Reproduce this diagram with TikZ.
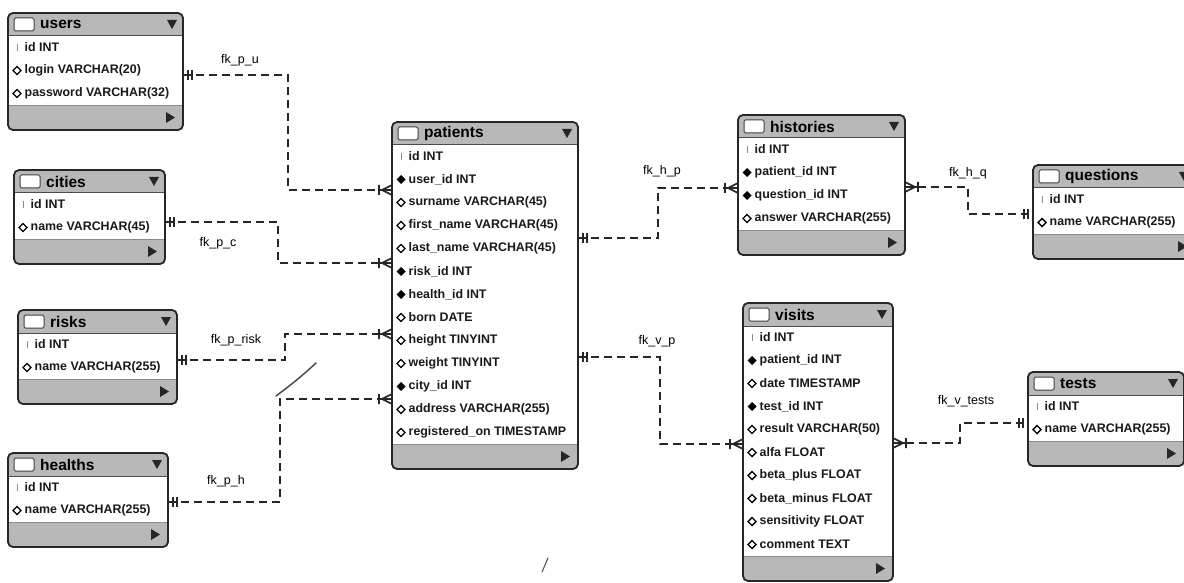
\documentclass[tikz,border=0pt]{standalone}
\usepackage{fontspec}
\setmainfont{Liberation Sans}
\tikzset{
  tabfill/.style={rectangle, rounded corners=5pt, fill=black!28, inner sep=0pt, outer sep=0pt},
  tabline/.style={draw=black!85, line width=1.8pt, rounded corners=5pt},
  ttl/.style={font=\fontsize{15.5}{15.5}\selectfont\bfseries, anchor=west, inner sep=0pt},
  rowtxt/.style={font=\fontsize{12.4}{12.4}\selectfont\bfseries, anchor=west, inner sep=0pt, text=black!90},
  lbl/.style={font=\fontsize{12.5}{12.5}\selectfont, inner sep=1pt},
  fk/.style={draw=black!85, line width=1.8pt, dash pattern=on 8pt off 5pt},
  endmark/.style={draw=black!85, line width=1.7pt, solid},
  one/.pic={\draw[endmark] (5,-5) -- (5,5) (9,-5) -- (9,5);},
  many/.pic={\draw[endmark] (0,-5) -- (10,0) -- (0,5) (0,0) -- (12,0) (13,-5) -- (13,5);},
  scribble/.style={draw=black!70, line width=1.5pt, line cap=round},
}
\newcommand{\dbtab}[7]{%
  \pgfmathsetmacro{\tabH}{48+23*#6}%
  \node[tabfill, minimum width=#5pt, minimum height=\tabH pt, anchor=north west] (#1) at (#3,#4) {};
  \fill[white] ([yshift=-23pt]#1.north west) rectangle ([yshift=25pt]#1.south east);
  \draw[black!70, line width=1pt] ([yshift=-23pt]#1.north west) -- ([yshift=-23pt]#1.north east);
  \draw[black!45, line width=0.8pt] ([yshift=25pt]#1.south west) -- ([yshift=25pt]#1.south east);
  \draw[tabline] (#1.north west) rectangle (#1.south east);
  \draw[fill=white, draw=black!75, line width=1pt, rounded corners=1.5pt] ([xshift=6pt,yshift=-5pt]#1.north west) rectangle ([xshift=26pt,yshift=-18pt]#1.north west);
  \node[ttl] (#1-title) at ([xshift=32pt,yshift=-11.5pt]#1.north west) {#2};
  \fill[black!85] ([xshift=-16pt,yshift=-7pt]#1.north east) -- ([xshift=-6pt,yshift=-7pt]#1.north east) -- ([xshift=-11pt,yshift=-16pt]#1.north east) -- cycle;
  \fill[black!85] ([xshift=-17pt,yshift=7pt]#1.south east) -- ([xshift=-17pt,yshift=18pt]#1.south east) -- ([xshift=-8pt,yshift=12.5pt]#1.south east) -- cycle;
  \foreach \ic/\tx [count=\k from 0] in {#7}{%
    \pgfmathsetmacro{\ry}{34.5+23*\k}%
    \coordinate (ico) at ([xshift=9pt,yshift=-\ry pt]#1.north west);
    \ifnum\ic=0 \draw[black!45, line width=0.8pt] ([yshift=3.5pt]ico) -- ([yshift=-3.5pt]ico);\fi
    \ifnum\ic=1 \draw[black, line width=1.4pt] ([xshift=-4pt]ico) -- ([yshift=4pt]ico) -- ([xshift=4pt]ico) -- ([yshift=-4pt]ico) -- cycle;\fi
    \ifnum\ic=2 \fill[black] ([xshift=-4.5pt]ico) -- ([yshift=4.5pt]ico) -- ([xshift=4.5pt]ico) -- ([yshift=-4.5pt]ico) -- cycle;\fi
    \node[rowtxt] (#1-r\k) at ([xshift=7.5pt]ico) {\tx};
  }%
}
\begin{document}
\begin{tikzpicture}[x=1pt,y=-1pt]
\useasboundingbox (0,0) rectangle (1184,583);
\fill[white] (0,0) rectangle (1184,583);
\clip (0,0) rectangle (1184,583);

\dbtab{users}{users}{8}{13}{175}{3}{0/id INT, 1/login VARCHAR(20), 1/password VARCHAR(32)}
\dbtab{cities}{cities}{14}{170}{151}{2}{0/id INT, 1/name VARCHAR(45)}
\dbtab{risks}{risks}{18}{310}{159}{2}{0/id INT, 1/name VARCHAR(255)}
\dbtab{healths}{healths}{8}{453}{160}{2}{0/id INT, 1/name VARCHAR(255)}
\dbtab{patients}{patients}{392}{122}{186}{13}{0/id INT, 2/user\_id INT, 1/surname VARCHAR(45), 1/first\_name VARCHAR(45), 1/last\_name VARCHAR(45), 2/risk\_id INT, 2/health\_id INT, 1/born DATE, 1/height TINYINT, 1/weight TINYINT, 2/city\_id INT, 1/address VARCHAR(255), 1/registered\_on TIMESTAMP}
\dbtab{histories}{histories}{738}{115}{167}{4}{0/id INT, 2/patient\_id INT, 2/question\_id INT, 1/answer VARCHAR(255)}
\dbtab{questions}{questions}{1033}{165}{162}{2}{0/id INT, 1/name VARCHAR(255)}
\dbtab{visits}{visits}{743}{303}{150}{10}{0/id INT, 2/patient\_id INT, 1/date TIMESTAMP, 2/test\_id INT, 1/result VARCHAR(50), 1/alfa FLOAT, 1/beta\_plus FLOAT, 1/beta\_minus FLOAT, 1/sensitivity FLOAT, 1/comment TEXT}
\dbtab{tests}{tests}{1028}{372}{156}{2}{0/id INT, 1/name VARCHAR(255)}

% connectors
\draw[fk] (users.east |- 0,75) -- (288,75) |- (patients.west |- 0,190);
\pic at (users.east |- 0,75) {one};
\pic[rotate=180] at (patients.west |- 0,190) {many};
\node[lbl] (l-pu) at (240,60) {fk\_p\_u};

\draw[fk] (cities.east |- 0,222) -- (278,222) |- (patients.west |- 0,263);
\pic at (cities.east |- 0,222) {one};
\pic[rotate=180] at (patients.west |- 0,263) {many};
\node[lbl] (l-pc) at (218,243) {fk\_p\_c};

\draw[fk] (risks.east |- 0,360) -- (285,360) |- (patients.west |- 0,334);
\pic at (risks.east |- 0,360) {one};
\pic[rotate=180] at (patients.west |- 0,334) {many};
\node[lbl] (l-pr) at (236,340) {fk\_p\_risk};

\draw[fk] (healths.east |- 0,502) -- (280,502) |- (patients.west |- 0,399);
\pic at (healths.east |- 0,502) {one};
\pic[rotate=180] at (patients.west |- 0,399) {many};
\node[lbl] (l-ph) at (226,481) {fk\_p\_h};

\draw[fk] (patients.east |- 0,238) -- (658,238) |- (histories.west |- 0,188);
\pic at (patients.east |- 0,238) {one};
\pic[rotate=180] at (histories.west |- 0,188) {many};
\node[lbl] (l-hp) at (662,171) {fk\_h\_p};

\draw[fk] (patients.east |- 0,357) -- (660,357) |- (visits.west |- 0,444);
\pic at (patients.east |- 0,357) {one};
\pic[rotate=180] at (visits.west |- 0,444) {many};
\node[lbl] (l-vp) at (657,341) {fk\_v\_p};

\draw[fk] (histories.east |- 0,187) -- (968,187) |- (questions.west |- 0,214);
\pic at (histories.east |- 0,187) {many};
\pic[rotate=180] at (questions.west |- 0,214) {one};
\node[lbl] (l-hq) at (968,173) {fk\_h\_q};

\draw[fk] (visits.east |- 0,443) -- (960,443) |- (tests.west |- 0,423);
\pic at (visits.east |- 0,443) {many};
\pic[rotate=180] at (tests.west |- 0,423) {one};
\node[lbl] (l-vt) at (966,401) {fk\_v\_tests};

% scan marks
\draw[scribble] (276,396) .. controls (292,384) and (302,376) .. (316,363);
\draw[scribble, line width=1pt] (548,558) -- (542,572);
\end{tikzpicture}
\end{document}
